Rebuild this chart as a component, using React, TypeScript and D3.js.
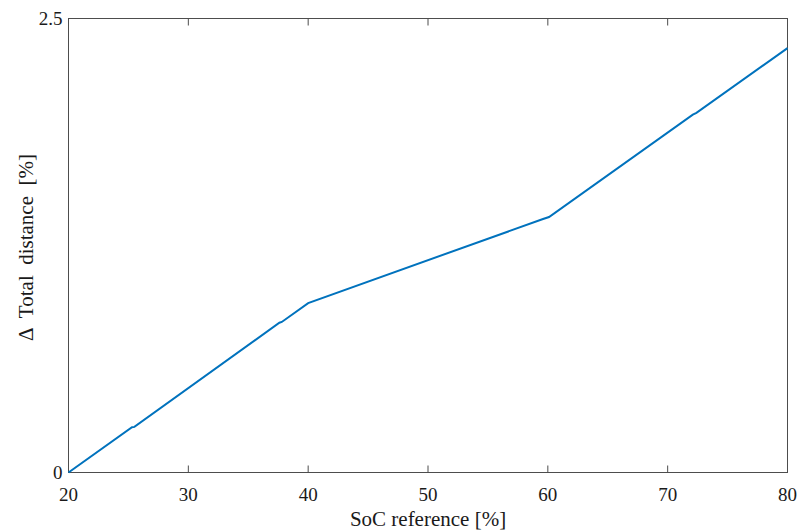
import React from "react";
import * as d3 from "d3";

const socRef = [20, 25.3, 25.5, 37.6, 37.8, 40, 59.6, 60.1, 72.1, 72.4, 80];
const deltaDistance = [0, 0.249, 0.251, 0.825, 0.829, 0.933, 1.396, 1.407, 1.971, 1.98, 2.337];
const xTicks = [20, 30, 40, 50, 60, 70, 80];
const yTicks = [0, 2.5];

const W = 798;
const H = 531;
const M = { left: 68.5, top: 18.5, right: 10.5, bottom: 58.5 };
const FONT = "'Liberation Serif', 'DejaVu Serif', serif";

export default function App() {
  const x = d3.scaleLinear().domain([20, 80]).range([M.left, W - M.right]);
  const y = d3.scaleLinear().domain([0, 2.5]).range([H - M.bottom, M.top]);
  const pts: [number, number][] = socRef.map((v, i) => [v, deltaDistance[i]]);
  const line = d3.line<[number, number]>().x((d) => x(d[0])).y((d) => y(d[1]));
  const axisColor = "#4d4d4d";
  const tick = 7;
  return (
    <svg width={W} height={H} style={{ position: "absolute", left: 0, top: 0, background: "#fff" }}>
      <rect x={M.left} y={M.top} width={x(80) - x(20)} height={y(0) - y(2.5)} fill="#fff" stroke={axisColor} strokeWidth={1} />
      {xTicks.map((t) => (
        <g key={"x" + t}>
          <line x1={x(t)} x2={x(t)} y1={y(0)} y2={y(0) - tick} stroke={axisColor} />
          <line x1={x(t)} x2={x(t)} y1={y(2.5)} y2={y(2.5) + tick} stroke={axisColor} />
          <text x={x(t)} y={y(0) + 28} textAnchor="middle" fontFamily={FONT} fontSize={19} fill="#1a1a1a">
            {t}
          </text>
        </g>
      ))}
      {yTicks.map((t) => (
        <g key={"y" + t}>
          <line x1={x(20)} x2={x(20) + tick} y1={y(t)} y2={y(t)} stroke={axisColor} />
          <line x1={x(80)} x2={x(80) - tick} y1={y(t)} y2={y(t)} stroke={axisColor} />
          <text x={x(20) - 6} y={y(t) + 6} textAnchor="end" fontFamily={FONT} fontSize={19} fill="#1a1a1a">
            {t}
          </text>
        </g>
      ))}
      <path d={line(pts) || ""} fill="none" stroke="#0072BD" strokeWidth={2} />
      <text x={(x(20) + x(80)) / 2} y={H - 5} textAnchor="middle" fontFamily={FONT} fontSize={21} fill="#1a1a1a">
        SoC reference [%]
      </text>
      <text
        transform={`translate(33, ${(y(0) + y(2.5)) / 2 + 2}) rotate(-90)`}
        textAnchor="middle"
        fontFamily={FONT}
        fontSize={21}
        fill="#1a1a1a"
        style={{ whiteSpace: "pre" }}
      >
        {"Δ  Total  distance  [%]"}
      </text>
    </svg>
  );
}
